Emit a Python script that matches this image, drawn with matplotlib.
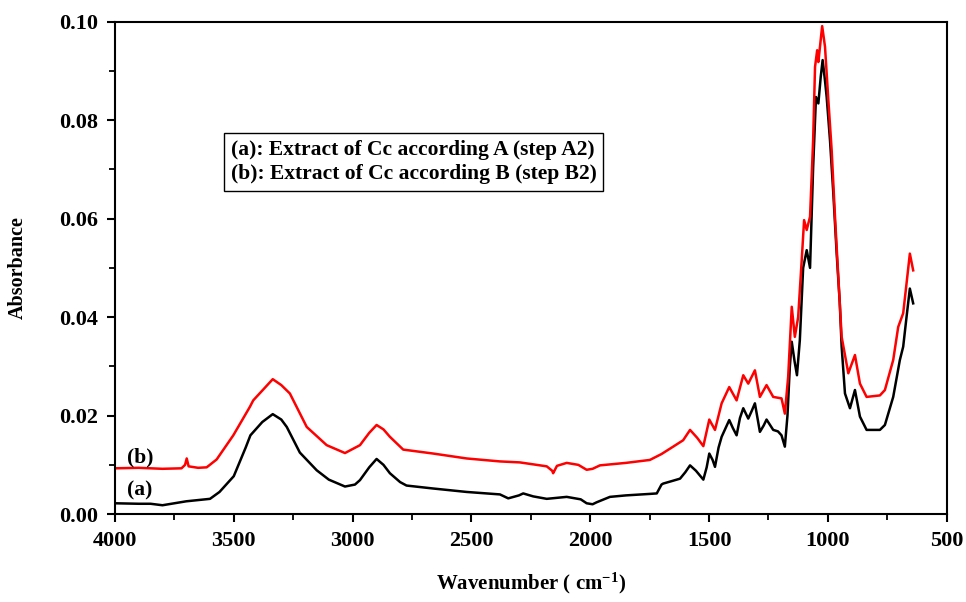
import numpy as np
import matplotlib
matplotlib.use("Agg")
import matplotlib.pyplot as plt
from matplotlib.ticker import MultipleLocator

plt.rcParams["font.family"] = ["Liberation Serif", "DejaVu Serif"]
plt.rcParams["font.weight"] = "bold"
plt.rcParams["mathtext.fontset"] = "custom"
plt.rcParams["mathtext.rm"] = "Liberation Serif:bold"
plt.rcParams["mathtext.default"] = "rm"

# spectrum (a): extract A, step A2
wn_a = [4000, 3900, 3850, 3800, 3750, 3700, 3600, 3560, 3500, 3450, 3430, 3380,
        3336, 3300, 3277, 3222, 3151, 3100, 3032, 2990, 2969, 2930, 2899, 2870,
        2843, 2800, 2773, 2661, 2520, 2380, 2345, 2300, 2282, 2240, 2183, 2099,
        2040, 2015, 1990, 1973, 1917, 1850, 1750, 1720, 1700, 1693, 1650, 1622,
        1600, 1580, 1555, 1524, 1510, 1499, 1485, 1475, 1460, 1447, 1415, 1400,
        1384, 1370, 1356, 1335, 1320, 1307, 1286, 1270, 1258, 1230, 1210, 1195,
        1181, 1170, 1160, 1152, 1140, 1130, 1118, 1104, 1089, 1075, 1062, 1050,
        1040, 1030, 1022, 1012, 1005, 991, 977, 963, 950, 942, 928, 907, 886,
        865, 837, 781, 760, 725, 697, 683, 669, 655, 641]
abs_a = [0.0022, 0.0021, 0.0021, 0.0018, 0.0022, 0.0026, 0.0031, 0.0045, 0.0077,
         0.0135, 0.0160, 0.0187, 0.0203, 0.0192, 0.0177, 0.0125, 0.0089, 0.0070,
         0.0056, 0.0060, 0.0069, 0.0095, 0.0112, 0.0100, 0.0083, 0.0065, 0.0058,
         0.0052, 0.0045, 0.0040, 0.0032, 0.0038, 0.0042, 0.0036, 0.0031, 0.0035,
         0.0030, 0.0022, 0.0020, 0.0024, 0.0035, 0.0038, 0.0041, 0.0042, 0.0060,
         0.0062, 0.0068, 0.0072, 0.0085, 0.0099, 0.0088, 0.0070, 0.0095, 0.0123,
         0.0110, 0.0096, 0.0135, 0.0157, 0.0191, 0.0175, 0.0160, 0.0195, 0.0215,
         0.0194, 0.0210, 0.0225, 0.0167, 0.0180, 0.0192, 0.0171, 0.0168, 0.0160,
         0.0137, 0.0200, 0.0300, 0.0350, 0.0310, 0.0282, 0.0353, 0.0500, 0.0536,
         0.0500, 0.0704, 0.0847, 0.0834, 0.0888, 0.0922, 0.0880, 0.0847, 0.0759,
         0.0651, 0.0530, 0.0430, 0.0340, 0.0245, 0.0215, 0.0252, 0.0198, 0.0171,
         0.0171, 0.0181, 0.0238, 0.0313, 0.0340, 0.0400, 0.0458, 0.0428]

# spectrum (b): extract B, step B2
wn_b = [4000, 3900, 3800, 3720, 3705, 3698, 3690, 3650, 3614, 3572, 3502, 3432,
        3418, 3336, 3300, 3264, 3193, 3109, 3032, 2969, 2930, 2899, 2870, 2843,
        2787, 2661, 2520, 2380, 2296, 2183, 2160, 2156, 2140, 2099, 2050, 2015,
        1990, 1959, 1850, 1749, 1700, 1651, 1609, 1580, 1550, 1524, 1499, 1475,
        1447, 1415, 1384, 1356, 1335, 1307, 1286, 1258, 1230, 1195, 1181, 1167,
        1152, 1139, 1125, 1110, 1100, 1089, 1075, 1062, 1054, 1045, 1040, 1024,
        1012, 998, 984, 970, 960, 942, 914, 886, 865, 837, 781, 760, 725, 704,
        683, 669, 655, 641]
abs_b = [0.0093, 0.0094, 0.0092, 0.0093, 0.0100, 0.0113, 0.0097, 0.0094, 0.0095,
         0.0111, 0.0160, 0.0218, 0.0231, 0.0274, 0.0262, 0.0245, 0.0177, 0.0140,
         0.0124, 0.0140, 0.0165, 0.0181, 0.0172, 0.0157, 0.0131, 0.0123, 0.0113,
         0.0107, 0.0105, 0.0097, 0.0088, 0.0083, 0.0098, 0.0104, 0.0100, 0.0090,
         0.0092, 0.0099, 0.0104, 0.0110, 0.0122, 0.0137, 0.0150, 0.0171, 0.0155,
         0.0138, 0.0192, 0.0171, 0.0225, 0.0258, 0.0231, 0.0282, 0.0265, 0.0292,
         0.0238, 0.0262, 0.0238, 0.0235, 0.0204, 0.0279, 0.0421, 0.0360, 0.0400,
         0.0516, 0.0597, 0.0577, 0.0604, 0.0759, 0.0908, 0.0942, 0.0918, 0.0991,
         0.0949, 0.0841, 0.0739, 0.0604, 0.0516, 0.0360, 0.0286, 0.0323, 0.0265,
         0.0238, 0.0241, 0.0252, 0.0313, 0.0380, 0.0408, 0.0468, 0.0529, 0.0495]

legend_lines = ["(a): Extract of Cc according A (step A2)",
                "(b): Extract of Cc according B (step B2)"]

fig = plt.figure(figsize=(9.66, 6.02), dpi=100)
ax = fig.add_axes([0.119, 0.146, 0.861, 0.818])

ax.plot(wn_a, abs_a, color="black", lw=1.8)
ax.plot(wn_b, abs_b, color="red", lw=1.8)

ax.set_xlim(4000, 500)
ax.set_ylim(0, 0.10)
ax.xaxis.set_major_locator(MultipleLocator(500))
ax.xaxis.set_minor_locator(MultipleLocator(250))
ax.yaxis.set_major_locator(MultipleLocator(0.02))
ax.yaxis.set_minor_locator(MultipleLocator(0.01))
ax.yaxis.set_major_formatter(plt.FormatStrFormatter("%.2f"))
ax.tick_params(which="major", direction="out", length=6, width=1.5,
               labelsize=16, pad=6)
ax.tick_params(which="minor", direction="out", length=4, width=1.3)
for s in ax.spines.values():
    s.set_linewidth(1.5)

ax.set_xlabel("Wavenumber ( cm$^{-1}$)", fontsize=15, fontweight="bold")
ax.set_ylabel("Absorbance", fontsize=14.5, fontweight="bold")
ax.xaxis.set_label_coords(0.5, -0.115)
ax.yaxis.set_label_coords(-0.105, 0.5)

ax.text(3895, 0.0116, "(b)", fontsize=15.5, fontweight="bold",
        ha="center", va="center")
ax.text(3895, 0.0047, "(a)", fontsize=15.5, fontweight="bold",
        ha="center", va="center")

ax.text(0.139, 0.760, "\n".join(legend_lines), transform=ax.transAxes,
        fontsize=15.5, fontweight="bold", ha="left", va="top", linespacing=1.28,
        bbox=dict(boxstyle="square,pad=0.3", fc="white", ec="black", lw=1))

fig.savefig("out.png", dpi=100)
